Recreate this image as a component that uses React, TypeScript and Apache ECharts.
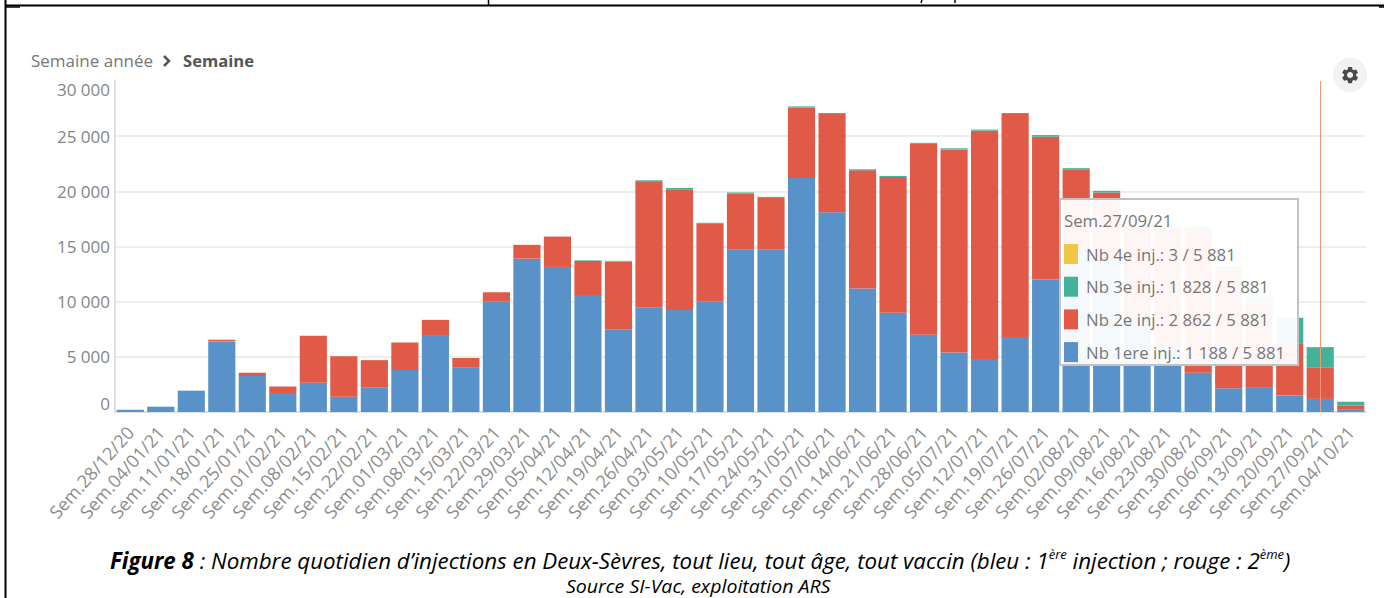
import React, { useEffect, useRef } from "react";
import * as echarts from "echarts";

const weeks = ["Sem.28/12/20","Sem.04/01/21","Sem.11/01/21","Sem.18/01/21","Sem.25/01/21","Sem.01/02/21","Sem.08/02/21","Sem.15/02/21","Sem.22/02/21","Sem.01/03/21","Sem.08/03/21","Sem.15/03/21","Sem.22/03/21","Sem.29/03/21","Sem.05/04/21","Sem.12/04/21","Sem.19/04/21","Sem.26/04/21","Sem.03/05/21","Sem.10/05/21","Sem.17/05/21","Sem.24/05/21","Sem.31/05/21","Sem.07/06/21","Sem.14/06/21","Sem.21/06/21","Sem.28/06/21","Sem.05/07/21","Sem.12/07/21","Sem.19/07/21","Sem.26/07/21","Sem.02/08/21","Sem.09/08/21","Sem.16/08/21","Sem.23/08/21","Sem.30/08/21","Sem.06/09/21","Sem.13/09/21","Sem.20/09/21","Sem.27/09/21","Sem.04/10/21"];
const first = [200,480,1930,6400,3260,1720,2650,1390,2200,3800,6900,4000,10000,13900,13150,10600,7500,9500,9250,10000,14700,14700,21200,18100,11200,9000,7000,5400,4800,6800,12000,14500,13800,8500,6000,3560,2150,2260,1510,1188,200];
const second = [0,0,0,150,300,580,4250,3660,2500,2500,1450,900,850,1250,2750,3100,6150,11350,10950,7050,5100,4700,6400,8900,10700,12300,17300,18400,20700,20200,12950,7450,6100,8400,10650,13000,10770,7600,4710,2862,400];
const third = [0,0,0,0,0,0,0,0,0,0,0,0,0,0,0,50,50,150,100,100,100,100,100,100,100,100,100,100,100,100,150,150,150,150,200,240,300,590,2300,1828,330];
const fourth = [0,0,0,0,0,0,0,0,0,0,0,0,0,0,0,0,0,0,0,0,0,0,0,0,0,0,0,0,0,0,0,0,0,0,0,0,0,0,30,3,0];
const seriesNames = ["Nb 1ere inj.","Nb 2e inj.","Nb 3e inj.","Nb 4e inj."];
const seriesColors = ["#5892c8","#e05a47","#43b29a","#f0c845"];
const hoveredWeek = "Sem.27/09/21";
const tooltipRows = ["Nb 4e inj.: 3 / 5 881","Nb 3e inj.: 1 828 / 5 881","Nb 2e inj.: 2 862 / 5 881","Nb 1ere inj.: 1 188 / 5 881"];
const tooltipColors = ["#f0c845","#43b29a","#e05a47","#5892c8"];

const GEAR = "M19.14 12.94c.04-.3.06-.61.06-.94 0-.32-.02-.64-.07-.94l2.03-1.58c.18-.14.23-.41.12-.61l-1.92-3.32c-.12-.22-.37-.29-.59-.22l-2.39.96c-.5-.38-1.03-.7-1.62-.94l-.36-2.54c-.04-.24-.24-.41-.48-.41h-3.84c-.24 0-.43.17-.47.41l-.36 2.54c-.59.24-1.13.57-1.62.94l-2.39-.96c-.22-.08-.47 0-.59.22L2.74 8.87c-.12.21-.08.47.12.61l2.03 1.58c-.05.3-.09.63-.09.94s.02.64.07.94l-2.03 1.58c-.18.14-.23.41-.12.61l1.92 3.32c.12.22.37.29.59.22l2.39-.96c.5.38 1.03.7 1.62.94l.36 2.54c.05.24.24.41.48.41h3.84c.24 0 .44-.17.47-.41l.36-2.54c.59-.24 1.13-.56 1.62-.94l2.39.96c.22.08.47 0 .59-.22l1.92-3.32c.12-.22.07-.47-.12-.61l-2.01-1.58zM12 15.6c-1.98 0-3.6-1.62-3.6-3.6s1.62-3.6 3.6-3.6 3.6 1.62 3.6 3.6-1.62 3.6-3.6 3.6z";
echarts.graphic.registerShape("gear", echarts.graphic.extendPath(GEAR, {}));

const UI_FONT = '"Open Sans", "Noto Sans", sans-serif';
const GREY = "#777777";

function line(x1: number, y1: number, x2: number, y2: number, lineWidth = 2) {
  return { type: "line", shape: { x1, y1, x2, y2 }, style: { stroke: "#000", lineWidth }, z: 50 };
}

function text(t: string, x: number, y: number, fontSize: number, extra: any = {}) {
  return {
    type: "text",
    x,
    y,
    z: 101,
    style: { text: t, x: 0, y: 0, fontSize, fontFamily: UI_FONT, fill: GREY, verticalAlign: "middle", ...extra },
  };
}

const graphics: any[] = [
  line(5, 5.5, 1384, 5.5),
  line(5.5, 0, 5.5, 598),
  line(488.5, 0, 488.5, 5, 1.5),
  line(922, 0, 921, 3, 1.5),
  line(955, 0, 955, 3, 1.5),
  line(6, 7, 20, 7, 1.5),
  line(1379, 7, 1384, 7, 1.5),
  text("Semaine année", 31, 60.5, 17),
  { type: "polyline", z: 50, shape: { points: [[164, 56], [169, 61], [164, 66]] }, style: { stroke: "#555", lineWidth: 2.5, fill: "none" } },
  text("Semaine", 183, 60.5, 16.6, { fontWeight: "bold", fill: "#555" }),
  { type: "circle", z: 50, shape: { cx: 1350, cy: 75, r: 17 }, style: { fill: "#f2f2f2" } },
  { type: "gear", x: 1340, y: 65, scaleX: 0.84, scaleY: 0.84, z: 51, style: { fill: "#4a4a4a" } },
  { type: "rect", z: 100, shape: { x: 1060, y: 199, width: 238, height: 166 }, style: { fill: "rgba(255,255,255,0.95)", stroke: "#c2c2c2", lineWidth: 2 } },
  text(hoveredWeek, 1064, 220.5, 16.8),
  ...tooltipRows.flatMap((row, i) => {
    const y = 254 + i * 32.7;
    return [
      { type: "rect", z: 101, shape: { x: 1064, y: y - 10, width: 14, height: 20 }, style: { fill: tooltipColors[i] } },
      text(row, 1086, y, 16.8),
    ];
  }),
  {
    type: "text",
    x: 110,
    y: 547,
    z: 50,
    style: {
      text: "{b|Figure 8} : Nombre quotidien d’injections en Deux-Sèvres, tout lieu, tout âge, tout vaccin (bleu : 1{s|ère} injection ; rouge : 2{s|ème})",
      fontFamily: UI_FONT,
      fontStyle: "italic",
      fontSize: 22.3,
      lineHeight: 26,
      fill: "#000",
      rich: {
        b: { fontFamily: UI_FONT, fontStyle: "italic", fontWeight: "bold", fontSize: 22.3, lineHeight: 26, fill: "#000" },
        s: { fontFamily: UI_FONT, fontStyle: "italic", fontSize: 13, lineHeight: 14, fill: "#000", verticalAlign: "top" },
      },
    },
  },
  {
    type: "text",
    x: 566,
    y: 576,
    scaleX: 1.085,
    z: 50,
    style: { text: "Source SI-Vac, exploitation ARS", fontFamily: UI_FONT, fontStyle: "italic", fontSize: 18, lineHeight: 20, fill: "#000" },
  },
];

const values = [first, second, third, fourth];

export default function App() {
  const ref = useRef<HTMLDivElement>(null);
  useEffect(() => {
    document.body.style.margin = "0";
    const chart = echarts.init(ref.current!, undefined, { renderer: "svg" });
    chart.setOption({
      animation: false,
      backgroundColor: "#fff",
      grid: { left: 115, right: 18, top: 81, bottom: 186 },
      xAxis: {
        type: "category",
        data: weeks,
        axisLine: { show: true, lineStyle: { color: "#e0e0e0", width: 2 } },
        axisTick: { show: false },
        axisLabel: { interval: 0, rotate: 48, margin: 17, fontSize: 18, fontFamily: UI_FONT, color: "#8c8c8c" },
      },
      yAxis: {
        type: "value",
        min: 0,
        max: 30000,
        interval: 5000,
        axisLine: { show: true, lineStyle: { color: "#e0e0e0", width: 2 } },
        axisTick: { show: false },
        splitLine: { show: true, showMaxLine: false, lineStyle: { color: "#eeeeee", width: 2 } },
        axisLabel: {
          margin: 5,
          fontSize: 17,
          fontFamily: UI_FONT,
          color: "#858585",
          verticalAlignMinLabel: "bottom",
          verticalAlignMaxLabel: "top",
          formatter: (v: number) => String(v).replace(/\B(?=(\d{3})+$)/g, " "),
        },
      },
      series: seriesNames.map((name, i) => ({
        name,
        type: "bar",
        stack: "injections",
        barCategoryGap: "11%",
        data: values[i],
        itemStyle: { color: seriesColors[i] },
        ...(i === 0
          ? {
              markLine: {
                silent: true,
                symbol: "none",
                label: { show: false },
                lineStyle: { color: "#f09a70", type: "solid", width: 1 },
                data: [{ xAxis: hoveredWeek }],
              },
            }
          : {}),
      })),
      graphic: { elements: graphics },
    });
    return () => chart.dispose();
  }, []);
  return <div ref={ref} style={{ width: 1384, height: 598, overflow: "hidden" }} />;
}
